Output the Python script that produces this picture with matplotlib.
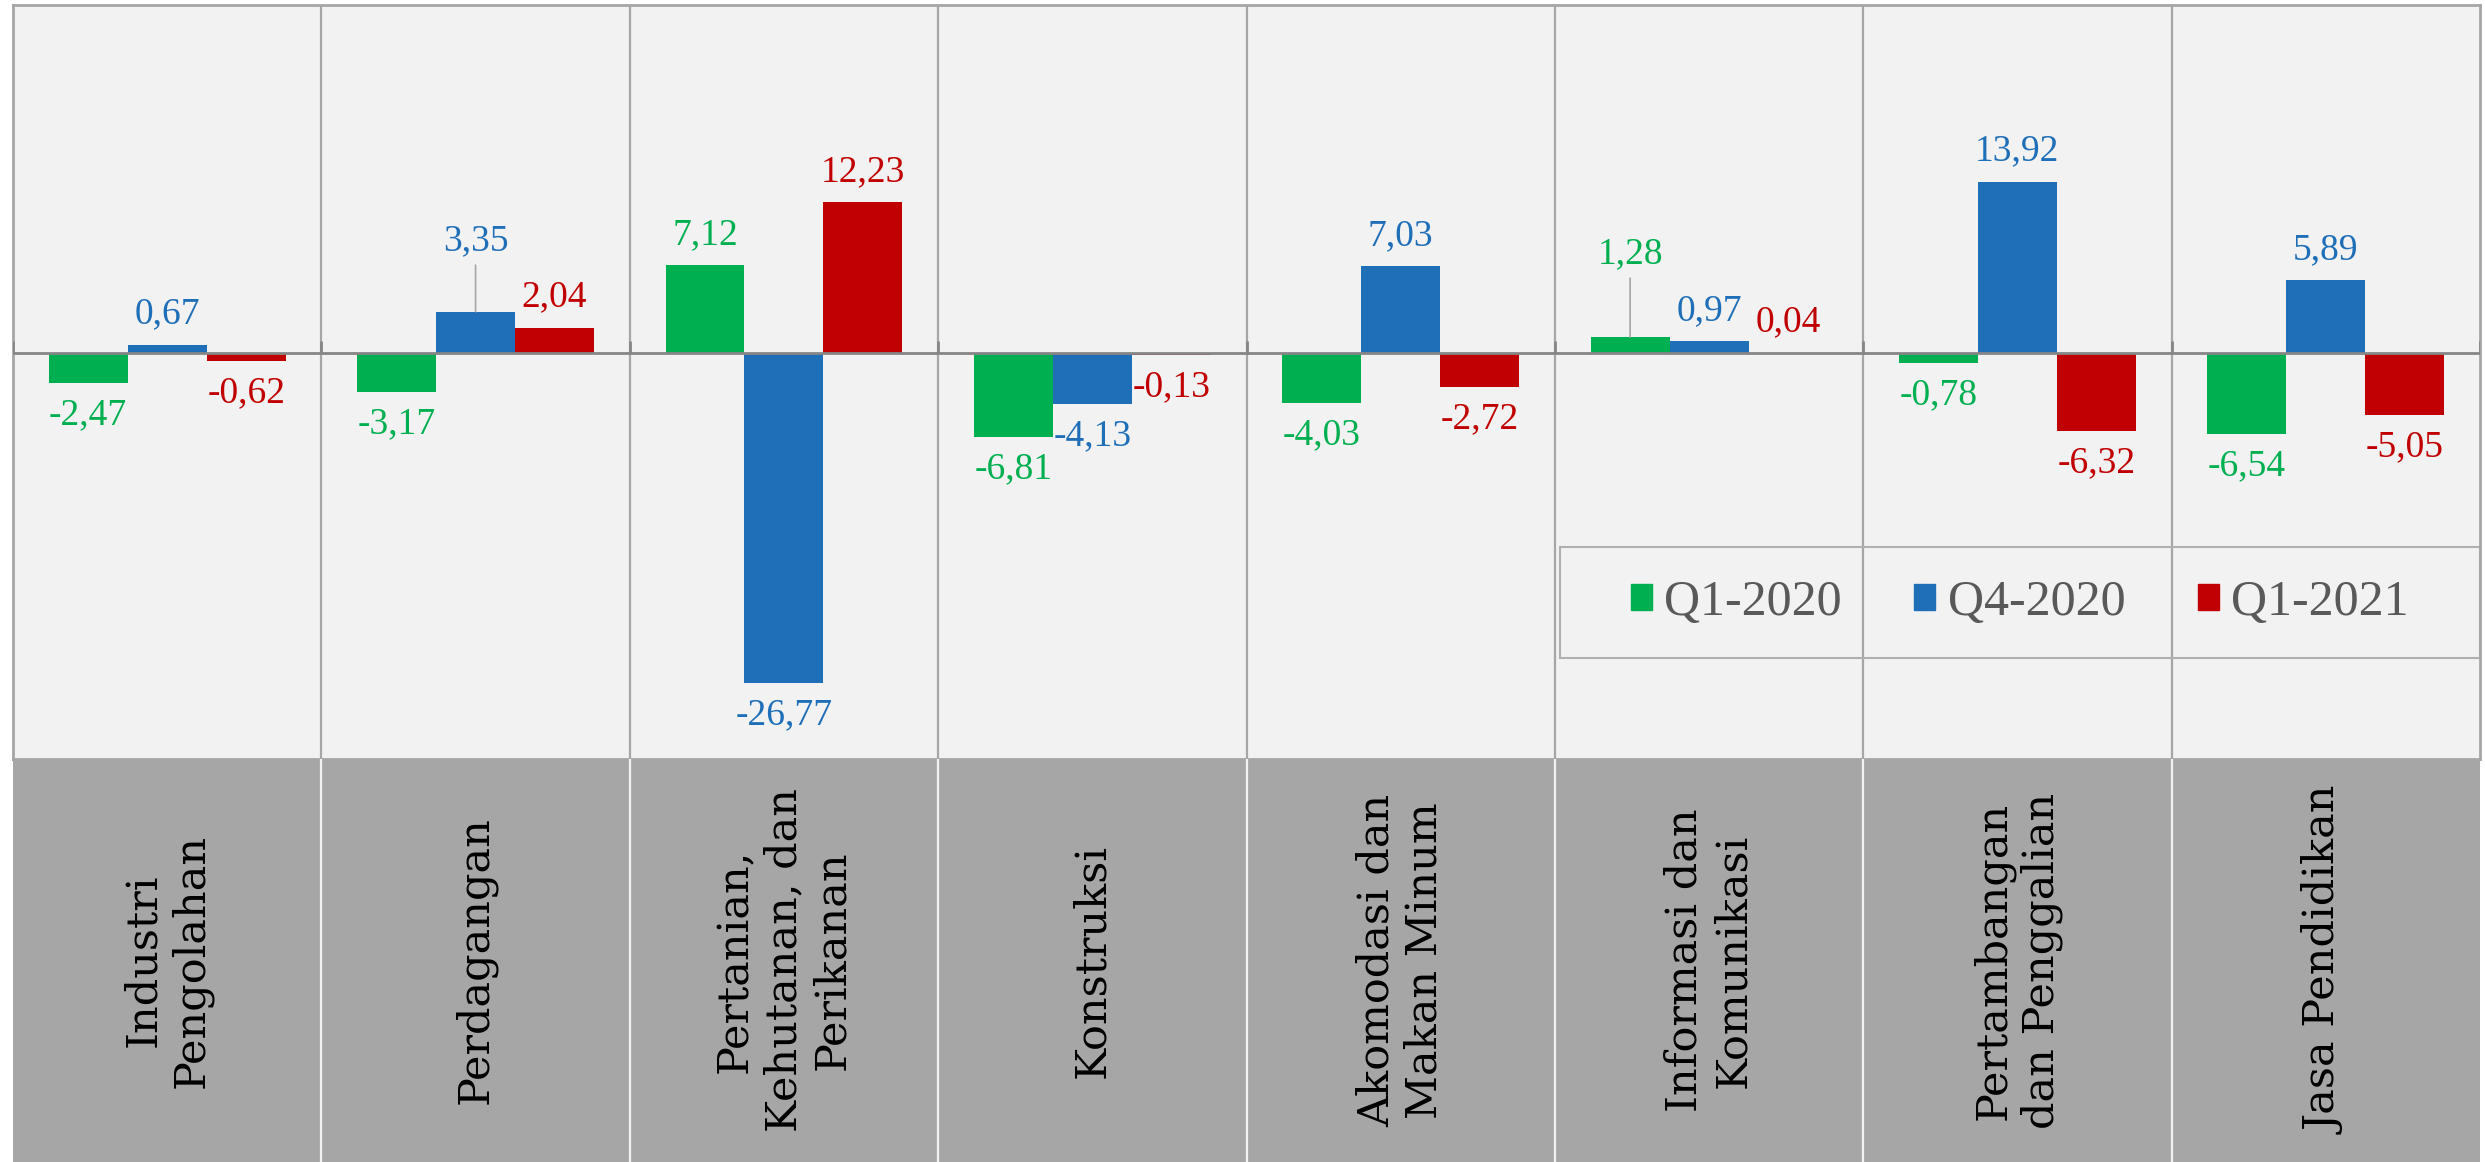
import matplotlib
matplotlib.use('Agg')
import matplotlib.pyplot as plt
import numpy as np
from matplotlib.patches import Patch, Rectangle

# data
categories = ['Industri\nPengolahan', 'Perdagangan', 'Pertanian,\nKehutanan, dan\nPerikanan',
              'Konstruksi', 'Akomodasi dan\nMakan Minum', 'Informasi dan\nKomunikasi',
              'Pertambangan\ndan Penggalian', 'Jasa Pendidikan']
series_names = ['Q1-2020', 'Q4-2020', 'Q1-2021']
q1_2020 = [-2.47, -3.17, 7.12, -6.81, -4.03, 1.28, -0.78, -6.54]
q4_2020 = [0.67, 3.35, -26.77, -4.13, 7.03, 0.97, 13.92, 5.89]
q1_2021 = [-0.62, 2.04, 12.23, -0.13, -2.72, 0.04, -6.32, -5.05]

colors = ['#00B050', '#1F6FB8', '#C00000']
grid_col = '#A6A6A6'

W, H = 2485, 1162
fig = plt.figure(figsize=(W / 100, H / 100), dpi=100)
fig.patch.set_facecolor('white')

x0, x1 = 13, 2480
y_top, y_band = 5, 759
ax = fig.add_axes([x0 / W, (H - y_band) / H, (x1 - x0) / W, (y_band - y_top) / H])
ax2 = fig.add_axes([x0 / W, 0, (x1 - x0) / W, (H - y_band) / H])

ax.set_facecolor('#F2F2F2')
ax2.set_facecolor('#A6A6A6')

n = len(categories)
xc = np.arange(n) + 0.5
bw = 0.256
all_series = [q1_2020, q4_2020, q1_2021]

ax.set_xlim(0, n)
ax.set_ylim(-32.95, 28.25)

# vertical dividers
for k in range(1, n):
    ax.axvline(k, color=grid_col, lw=1.6, zorder=1)

for s, (vals, col) in enumerate(zip(all_series, colors)):
    xs = xc + (s - 1) * bw
    ax.bar(xs, vals, width=bw, color=col, zorder=3, label=series_names[s])
    for i, (xx, v) in enumerate(zip(xs, vals)):
        txt = f"{v:.2f}".replace('.', ',')
        off = 22 if v >= 0 else -23
        arrow = None
        if (s, i) == (1, 1):
            off = 51
            arrow = dict(arrowstyle='-', color=grid_col, lw=1.2, shrinkA=3, shrinkB=0)
        if (s, i) == (0, 5):
            off = 60
            arrow = dict(arrowstyle='-', color=grid_col, lw=1.2, shrinkA=3, shrinkB=0)
        ax.annotate(txt, xy=(xx, v), xytext=(0, off), textcoords='offset points',
                    ha='center', va='center', color=col, fontsize=27,
                    family='Liberation Serif', arrowprops=arrow, zorder=5)

# zero axis with ticks
ax.axhline(0, color='#868686', lw=2, zorder=4)
ax.vlines(np.arange(n + 1), 0, 1.0, color='#868686', lw=2, zorder=4)

ax.set_xticks([])
ax.set_yticks([])
for sp in ax.spines.values():
    sp.set_color(grid_col)
    sp.set_linewidth(2)

# legend
box = Rectangle((0.627, 0.134), 0.373, 0.147, transform=ax.transAxes,
                fill=False, edgecolor='#B0B0B0', lw=1.5, zorder=2)
ax.add_patch(box)
handles = [Patch(color=c) for c in colors]
leg = ax.legend(handles, series_names, ncol=3, loc='center',
                bbox_to_anchor=(0.627, 0.134, 0.373, 0.147), frameon=False,
                prop={'family': 'Liberation Serif', 'size': 36},
                handlelength=0.42, handleheight=0.42, handletextpad=0.25,
                columnspacing=1.45, labelcolor='#595959')

# category band
ax2.set_xlim(0, n)
ax2.set_ylim(0, 1)
for k in range(1, n):
    ax2.axvline(k, color='#F2F2F2', lw=1.6)
for i, cat in enumerate(categories):
    ax2.text(xc[i], 0.5, cat, rotation=90, ha='center', va='center',
             multialignment='center', fontsize=31, family='DejaVu Serif', color='black')
ax2.set_xticks([])
ax2.set_yticks([])
for sp in ax2.spines.values():
    sp.set_visible(False)

fig.savefig('out.png', dpi=100)
